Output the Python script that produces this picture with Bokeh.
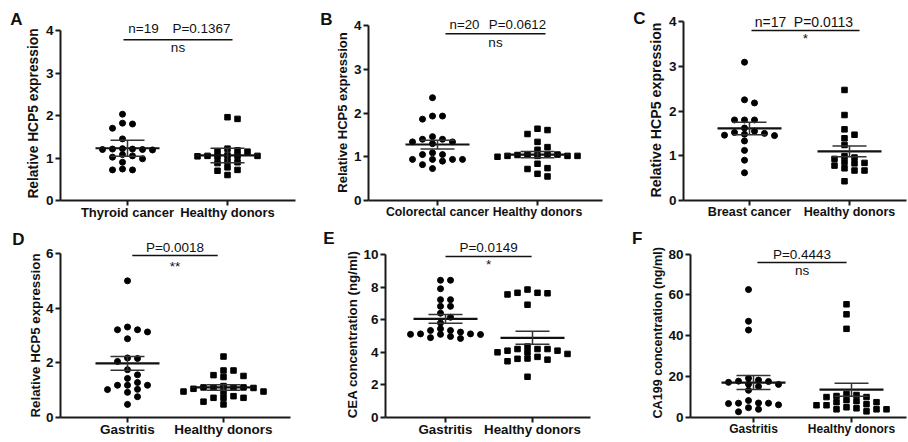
from bokeh.plotting import figure
from bokeh.layouts import column, row
from bokeh.models import Range1d, FixedTicker, Label, LinearAxis
from bokeh.embed import file_html
from bokeh.resources import INLINE

FONT = "Liberation Sans"

# ---------------- data ----------------
A_groups = ["Thyroid cancer", "Healthy donors"]
A_case = [2.03, 1.80, 1.82, 1.70, 1.45, 1.22, 1.20, 1.21, 1.19, 1.20, 1.21,
          1.08, 1.05, 0.98, 1.02, 0.90, 0.72, 0.72, 0.74]
A_healthy = [1.96, 1.92, 1.18, 1.16, 1.22, 1.15, 1.05, 1.03, 1.05, 1.06, 1.04,
             1.05, 0.92, 0.90, 0.88, 0.78, 0.72, 0.70, 0.60]
A_mean = [1.23, 1.06]
A_err = [0.19, 0.17]
A_yticks = [0, 1, 2, 3, 4]
A_stat = ["n=19", "P=0.1367"]
A_sig = "ns"

B_groups = ["Colorectal cancer", "Healthy donors"]
B_case = [2.35, 1.93, 1.93, 1.86, 1.46, 1.40, 1.34, 1.34, 1.30, 1.40, 1.05,
          0.94, 1.09, 0.90, 0.94, 0.94, 0.82, 1.05, 0.94, 0.73]
B_healthy = [1.64, 1.61, 1.52, 1.34, 1.22, 1.16, 1.02, 1.02, 1.05, 1.06, 1.00,
             1.04, 1.02, 1.02, 1.05, 0.84, 0.74, 0.72, 0.61, 0.55]
B_mean = [1.28, 1.05]
B_err = [0.10, 0.07]
B_yticks = [0, 1, 2, 3, 4]
B_stat = ["n=20", "P=0.0612"]
B_sig = "ns"

C_groups = ["Breast cancer", "Healthy donors"]
C_case = [3.09, 2.18, 2.25, 1.80, 1.80, 1.80, 1.62, 1.48, 1.52, 1.46, 1.50,
          1.55, 1.45, 1.33, 1.12, 0.90, 0.62]
C_healthy = [2.47, 1.91, 1.59, 1.47, 1.39, 1.24, 0.96, 0.99, 0.93, 0.86, 0.84,
             0.83, 0.78, 0.72, 0.67, 0.67, 0.43]
C_mean = [1.61, 1.10]
C_err = [0.14, 0.12]
C_yticks = [0, 1, 2, 3, 4]
C_stat = ["n=17", "P=0.0113"]
C_sig = "*"

D_groups = ["Gastritis", "Healthy donors"]
D_case = [5.00, 3.21, 3.21, 3.13, 3.31, 2.88, 2.18, 2.16, 2.05, 1.75, 1.56,
          1.43, 1.28, 1.03, 1.18, 1.18, 1.02, 1.18, 0.92, 0.76, 0.48]
D_healthy = [2.23, 1.72, 1.72, 1.55, 1.52, 1.48, 1.05, 1.10, 1.10, 1.15, 1.08,
             1.10, 1.10, 0.95, 0.93, 0.95, 0.72, 0.78, 0.72, 0.72, 0.58, 0.48]
D_mean = [1.98, 1.10]
D_err = [0.25, 0.10]
D_yticks = [0, 2, 4, 6]
D_stat = ["P=0.0018"]
D_sig = "**"

E_groups = ["Gastritis", "Healthy donors"]
E_case = [8.42, 8.42, 7.90, 7.23, 7.23, 6.82, 6.82, 6.40, 6.15, 5.80, 5.13,
          5.34, 5.24, 4.85, 5.13, 5.34, 4.97, 5.44, 5.09, 5.10, 5.10, 4.90]
E_healthy = [7.65, 7.65, 7.55, 7.85, 7.62, 6.92, 4.20, 4.20, 4.10, 4.10, 4.35,
             4.00, 4.20, 4.00, 3.90, 3.72, 3.55, 3.60, 3.45, 3.62, 2.50]
E_mean = [6.05, 4.89]
E_err = [0.27, 0.40]
E_yticks = [0, 2, 4, 6, 8, 10]
E_stat = ["P=0.0149"]
E_sig = "*"

F_groups = ["Gastritis", "Healthy donors"]
F_case = [62.6, 47.1, 42.8, 18.3, 17.6, 16.2, 19.2, 17.8, 17.2, 13.3, 16.3,
          15.2, 7.0, 6.8, 6.2, 7.0, 8.3, 7.1, 2.8, 4.0, 4.8]
F_healthy = [55.4, 50.5, 43.4, 10.0, 7.5, 8.0, 6.5, 10.0, 7.5, 10.5, 6.0,
             11.0, 11.5, 6.0, 4.0, 4.0, 4.5, 4.0, 5.0, 3.0, 8.5]
F_mean = [17.1, 13.6]
F_err = [3.4, 3.2]
F_yticks = [0, 20, 40, 60, 80]
F_stat = ["P=0.4443"]
F_sig = "ns"

Y_LABEL_HCP5 = "Relative HCP5 expression"
Y_LABEL_CEA = "CEA concentration (ng/ml)"
Y_LABEL_CA199 = "CA199 concentration (ng/ml)"


# ---------------- helpers ----------------
def swarm_offsets(vals, ppu, step_px=10.0, gap_px=5.5):
    """Column-lattice beeswarm: returns pixel x offsets."""
    n = len(vals)
    order = sorted(range(n), key=lambda i: -vals[i])
    cand = [0]
    for k in range(1, 20):
        cand += [k, -k]
    placed = []
    slots = [0] * n
    for i in order:
        y = vals[i] * ppu
        for c in cand:
            if all(not (s == c and abs(y - py) < gap_px) for py, s in placed):
                slots[i] = c
                placed.append((y, c))
                break
    shift = (max(slots) + min(slots)) / 2.0
    return [(s - shift) * step_px for s in slots]


def text_axis(tick, text, standoff, size, orientation="horizontal", line_height=1.2):
    """A line-less outer axis that carries a single text as its tick label."""
    return LinearAxis(ticker=FixedTicker(ticks=[tick]),
                      major_label_overrides={tick: text},
                      major_label_orientation=orientation,
                      axis_line_color=None, major_tick_line_color=None,
                      minor_tick_line_color=None, major_tick_out=0, major_tick_in=0,
                      major_label_standoff=standoff,
                      major_label_text_font=FONT,
                      major_label_text_font_style="bold",
                      major_label_text_font_size=size,
                      major_label_text_line_height=line_height,
                      major_label_text_color="#111111")


def panel(letter, letter_py, letter_standoff, groups, case, healthy, mean, err,
          yticks, ylabel, label_py, label_standoff, label_lh, stats, sig, sig_y,
          bar, geo, fonts):
    ox, oy, fw, fh, fl, fr, ytop, fb, t1, t2 = geo
    xlab_size, ylab_size, stat_size = fonts
    ymax = yticks[-1]
    L = fl - ox
    R = ox + fw - fr
    B = oy + fh - fb
    sx = float(t2 - t1)
    x0 = 1 - (t1 - fl) / sx
    x1 = 2 + (fr - t2) / sx
    sy = (fb - ytop) / float(ymax)
    y_end = (fb - oy) / sy

    p = figure(width=fw, height=fh, output_backend="svg", toolbar_location=None,
               x_range=Range1d(x0, x1), y_range=Range1d(0, y_end),
               min_border_left=L, min_border_right=R,
               min_border_top=0, min_border_bottom=B)
    p.outline_line_color = None
    p.grid.visible = False
    p.background_fill_color = "white"
    p.border_fill_color = "white"

    # axes
    p.xaxis.ticker = FixedTicker(ticks=[1, 2])
    p.xaxis.major_label_overrides = {1: groups[0], 2: groups[1]}
    p.yaxis.ticker = FixedTicker(ticks=yticks)
    p.yaxis.bounds = (0, ymax)
    for ax in (p.xaxis, p.yaxis):
        ax.axis_line_width = 2
        ax.axis_line_color = "#1a1a1a"
        ax.major_tick_line_width = 2
        ax.major_tick_line_color = "#1a1a1a"
        ax.major_tick_out = 5
        ax.major_tick_in = 0
        ax.minor_tick_line_color = None
        ax.major_label_text_font = FONT
        ax.major_label_text_font_style = "bold"
        ax.major_label_text_color = "#111111"
    p.xaxis.major_label_text_font_size = "%.1fpx" % xlab_size
    p.xaxis.major_label_standoff = -1
    p.yaxis.major_label_text_font_size = "13.5px"
    p.yaxis.major_label_standoff = 2

    # y title and panel letter as outer, line-less axes
    yc = round((fb - label_py) / sy, 3)
    p.add_layout(text_axis(yc, ylabel, label_standoff, "%.1fpx" % ylab_size,
                           orientation="parallel", line_height=label_lh), "left")
    ly = round((fb - letter_py) / sy, 3)
    p.add_layout(text_axis(ly, letter, letter_standoff, "17px"), "left")

    # points
    for k, (vals, marker) in enumerate(((case, "circle"), (healthy, "square"))):
        offs = swarm_offsets(vals, sy)
        xs = [k + 1 + o / sx for o in offs]
        p.scatter(x=xs, y=vals, marker=marker, size=6 if marker == "circle" else 5.5,
                  color="#000000")

    # mean and error bars
    cx = [1, 2]
    hw_mean = 32.0 / sx
    hw_cap = 17.0 / sx
    lo = [m - e for m, e in zip(mean, err)]
    hi = [m + e for m, e in zip(mean, err)]
    p.segment(x0=[c - hw_mean for c in cx], y0=mean, x1=[c + hw_mean for c in cx],
              y1=mean, line_width=2.2, line_color="#111111")
    p.segment(x0=cx, y0=lo, x1=cx, y1=hi, line_width=1.5, line_color="#333333")
    p.segment(x0=[c - hw_cap for c in cx] * 2, y0=lo + hi,
              x1=[c + hw_cap for c in cx] * 2, y1=lo + hi,
              line_width=1.5, line_color="#333333")

    # significance bar and texts
    bx0, bx1, by = bar
    p.segment(x0=[bx0], y0=[by], x1=[bx1], y1=[by], line_width=1.5, line_color="#111111")
    mid = (bx0 + bx1) / 2.0
    for text, tx, ty in stats:
        p.add_layout(Label(x=mid if tx is None else tx, y=ty, text=text,
                           text_align="center", text_baseline="middle",
                           text_font=FONT, text_font_size="%.1fpx" % stat_size,
                           text_color="#111111"))
    p.add_layout(Label(x=mid, y=sig_y, text=sig, text_align="center",
                       text_baseline="middle", text_font=FONT,
                       text_font_size="13.5px", text_color="#111111"))
    return p


# geo: fig x, fig y, fig w, fig h, frame left, frame right, top-tick y, axis y, tick1 x, tick2 x
# fonts: x tick label size, y title size, stat text size
pA = panel("A", 19, 1, A_groups, A_case, A_healthy, A_mean, A_err, A_yticks,
           Y_LABEL_HCP5, 113, 1, 1.2,
           [(A_stat[0], 1.16, 4.05), (A_stat[1], 1.74, 4.05)], A_sig, 3.60,
           (0.96, 2.05, 3.78), (0, 0, 300, 224, 60, 295, 30, 200, 127, 227),
           (13.0, 13.8, 13.5))
pB = panel("B", 19, 0, B_groups, B_case, B_healthy, B_mean, B_err, B_yticks,
           Y_LABEL_HCP5, 112, 0, 0.8,
           [(B_stat[0], 1.27, 4.02), (B_stat[1], 1.80, 4.02)], B_sig, 3.62,
           (1.08, 2.08, 3.81), (300, 0, 305, 224, 368, 602, 25, 200, 437, 537),
           (12.3, 13.0, 13.3))
pC = panel("C", 18.5, 0, C_groups, C_case, C_healthy, C_mean, C_err, C_yticks,
           Y_LABEL_HCP5, 109.5, 1, 0.9,
           [(C_stat[0], 1.21, 4.00), (C_stat[1], 1.74, 4.00)], C_sig, 3.62,
           (1.02, 2.10, 3.80), (605, 0, 303, 224, 683, 906, 21, 200, 749, 849),
           (12.6, 14.2, 14.0))
pD = panel("D", 238.5, 0, D_groups, D_case, D_healthy, D_mean, D_err, D_yticks,
           Y_LABEL_HCP5, 335, 0, 1.2,
           [(D_stat[0], None, 6.23)], D_sig, 5.54,
           (1.05, 1.94, 5.93), (0, 224, 300, 218, 60, 290, 253, 417, 127, 223),
           (13.5, 13.3, 13.5))
pE = panel("E", 238, 8, E_groups, E_case, E_healthy, E_mean, E_err, E_yticks,
           Y_LABEL_CEA, 334, 0, 1.2,
           [(E_stat[0], None, 10.45)], E_sig, 9.36,
           (1.00, 1.99, 9.88), (300, 224, 305, 218, 385, 590, 254, 417, 445, 532),
           (13.3, 13.3, 13.5))
pF = panel("F", 238, 6, F_groups, F_case, F_healthy, F_mean, F_err, F_yticks,
           Y_LABEL_CA199, 334, 0, 1.2,
           [(F_stat[0], None, 80.0)], F_sig, 71.8,
           (1.04, 1.95, 75.8), (605, 224, 303, 218, 690, 906, 254, 420, 753, 851),
           (12.0, 12.6, 13.5))

layout = column(row(pA, pB, pC), row(pD, pE, pF))
open("out.html", "w").write(file_html(layout, INLINE))
